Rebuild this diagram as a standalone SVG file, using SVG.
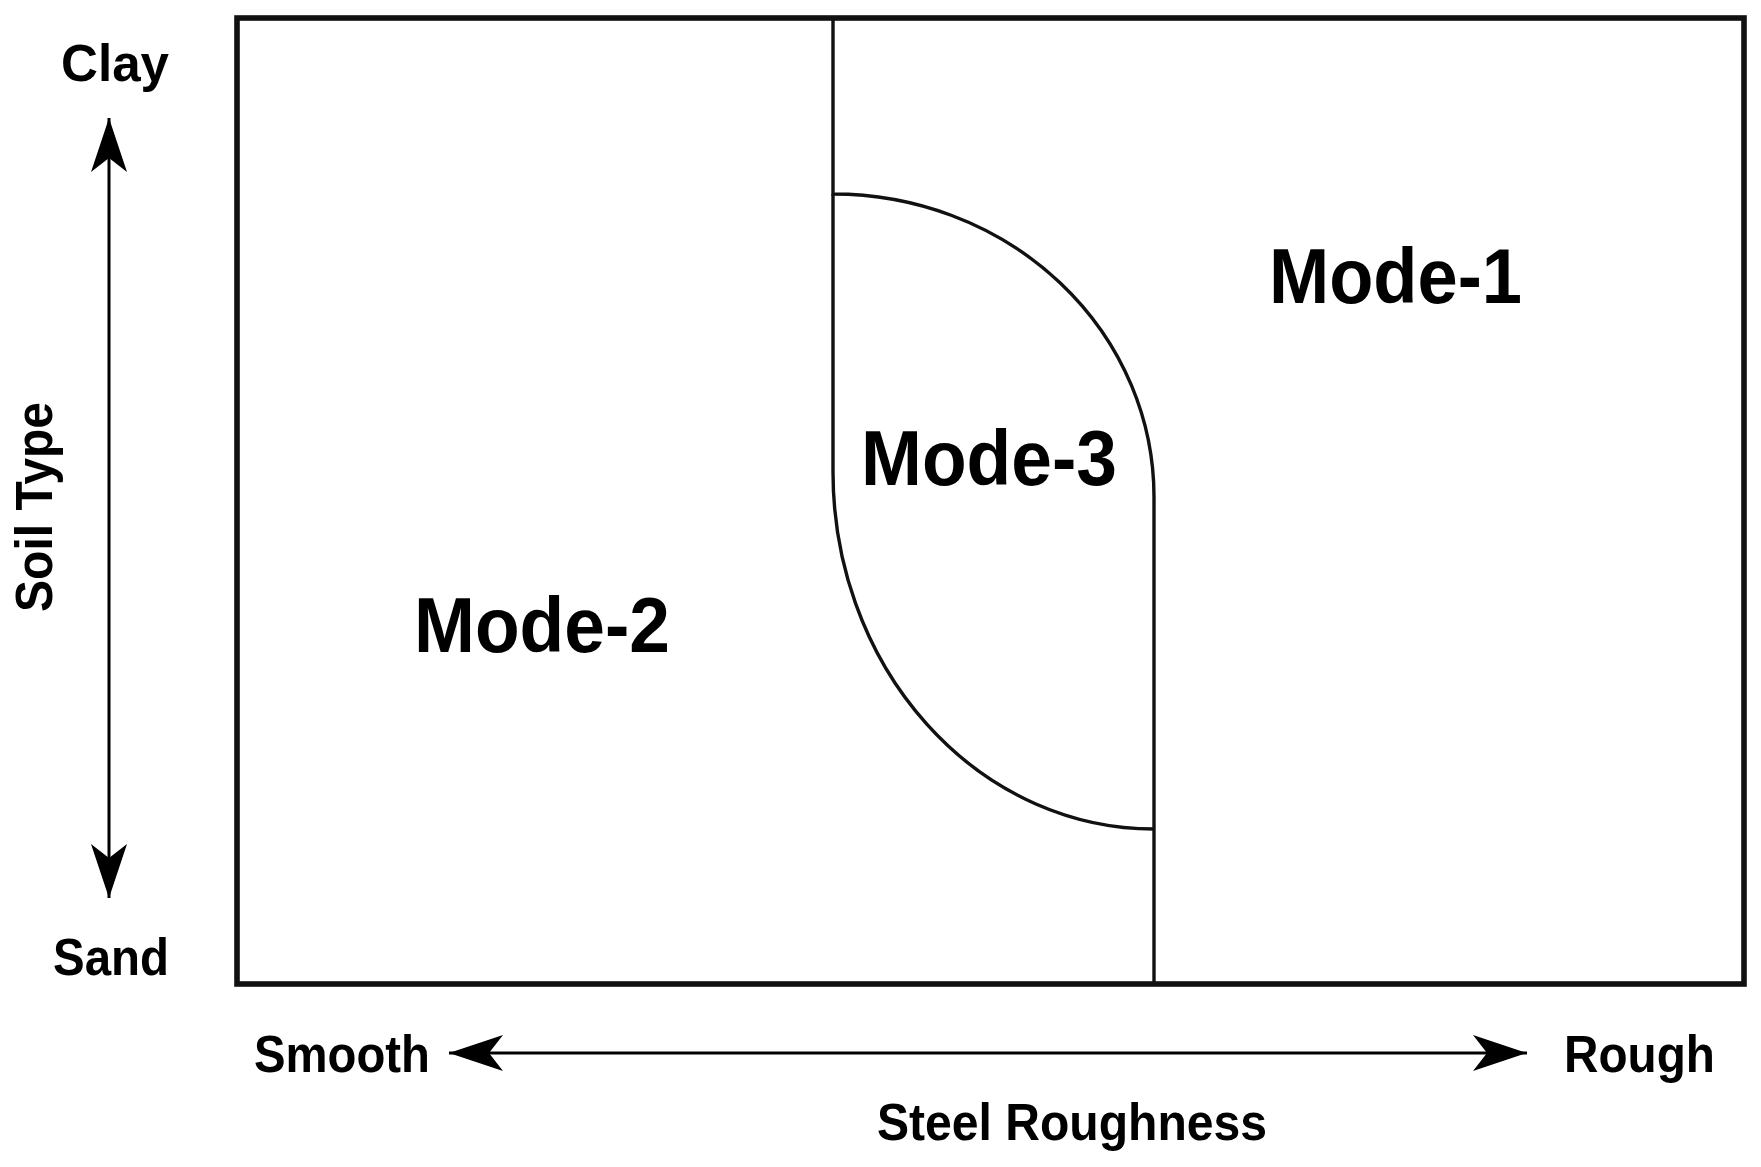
<svg xmlns="http://www.w3.org/2000/svg" width="1761" height="1167" viewBox="0 0 1761 1167">
<style>
.t{font-family:"Liberation Sans",Arial,sans-serif;font-weight:bold;fill:#000}
.s{font-size:52px}
.m{font-size:78px}
.ln{fill:none;stroke:#111;stroke-width:3.4}
</style>
<defs>
<marker id="ah" viewBox="0 0 54 36" refX="54" refY="18" markerWidth="54" markerHeight="36" markerUnits="userSpaceOnUse" orient="auto-start-reverse">
<path d="M0,0 L54,18 L0,36 L14,18 Z" fill="#000"/>
</marker>
</defs>
<rect width="1761" height="1167" fill="#fff"/>
<g id="frame"><rect x="237" y="18" width="1507" height="966" fill="none" stroke="#111" stroke-width="5.6"/></g>
<g id="connectors">
<path class="ln" d="M833,18 V194 A321 303 0 0 1 1154,497 V984"/>
<path class="ln" d="M833,194 V472 A321 357 0 0 0 1154,829"/>
<line x1="109" y1="118" x2="109" y2="898" stroke="#000" stroke-width="3" marker-start="url(#ah)" marker-end="url(#ah)"/>
<line x1="449" y1="1053" x2="1527" y2="1053" stroke="#000" stroke-width="3" marker-start="url(#ah)" marker-end="url(#ah)"/>
</g>
<g id="labels">
<text class="t s" x="115" y="81" text-anchor="middle" textLength="108" lengthAdjust="spacingAndGlyphs">Clay</text>
<text class="t s" x="111" y="975" text-anchor="middle" textLength="116" lengthAdjust="spacingAndGlyphs">Sand</text>
<text class="t s" transform="translate(52,507) rotate(-90)" text-anchor="middle" textLength="210" lengthAdjust="spacingAndGlyphs">Soil Type</text>
<text class="t s" x="254" y="1072" textLength="176" lengthAdjust="spacingAndGlyphs">Smooth</text>
<text class="t s" x="1564" y="1072" textLength="151" lengthAdjust="spacingAndGlyphs">Rough</text>
<text class="t s" x="877" y="1140" textLength="390" lengthAdjust="spacingAndGlyphs">Steel Roughness</text>
</g>
<g id="mode1"><text class="t m" x="1269" y="303" textLength="253" lengthAdjust="spacingAndGlyphs">Mode-1</text></g>
<g id="mode2"><text class="t m" x="414" y="652" textLength="256" lengthAdjust="spacingAndGlyphs">Mode-2</text></g>
<g id="mode3"><text class="t m" x="861" y="485" textLength="256" lengthAdjust="spacingAndGlyphs">Mode-3</text></g>
</svg>
